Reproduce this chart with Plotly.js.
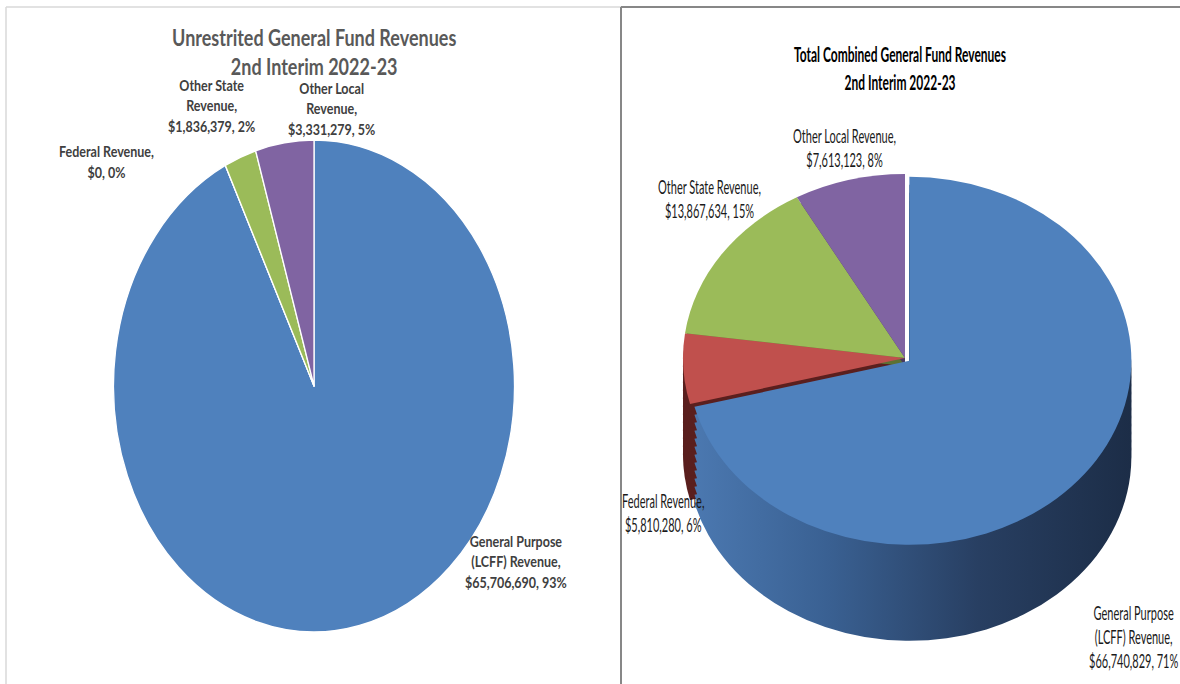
<!DOCTYPE html>
<html>
<head>
<meta charset="utf-8">
<script src="https://cdn.plot.ly/plotly-3.0.1.min.js"></script>
<style>
html,body{margin:0;padding:0;background:#ffffff;}
#chart{width:1180px;height:684px;}
</style>
</head>
<body>
<div id="chart"></div>
<script>
// ---------- DATA ----------
const categories = ["General Purpose (LCFF) Revenue", "Federal Revenue", "Other State Revenue", "Other Local Revenue"];
const unrestrictedValues = [65706690, 0, 1836379, 3331279];
const unrestrictedPct = [93, 0, 2, 5];
const combinedValues = [66740829, 5810280, 13867634, 7613123];
const combinedPct = [71, 6, 15, 8];
const leftWrapped = ["General Purpose<br>(LCFF) Revenue", "Federal Revenue", "Other State<br>Revenue", "Other Local<br>Revenue"];
const rightWrapped = ["General Purpose<br>(LCFF) Revenue", "Federal Revenue", "Other State Revenue", "Other Local Revenue"];
const leftTitle = "Unrestrited General Fund Revenues<br>2nd Interim 2022-23";
const rightTitle = "Total Combined General Fund Revenues<br>2nd Interim 2022-23";

// ---------- STYLE / LAYOUT ----------
const W = 1180, H = 684;
const sliceColors = ["#4f81bd", "#c0504d", "#9bbb59", "#8064a2"];
const sideColors = ["#2f4d74", "#5a1f1e", "#5c7133", "#4a3a60"];

// left flat pie (ellipse): centre, vertical radius, horizontal radius
const L = {cx: 314, cy: 386, ry: 246, rx: 200.5};
// right 3D pie top face
const R = {cx: 905, cy: 358, rx: 222, ry: 184, depth: 96, copies: 12, pull: 0.025};

// label anchor positions (pixel centres) in the order of categories
const leftLabelPos = [[516, 562], [106, 161.5], [211, 106.5], [331, 108.5]];
const rightLabelPos = [[1133, 637], [663, 512], [709, 198], [844, 147]];

function fmt(v) { return "$" + v.toLocaleString("en-US"); }
function dom(cx, cy, r) {
  return {x: [(cx - r) / W, (cx + r) / W], y: [(H - cy - r) / H, (H - cy + r) / H]};
}

const traces = [];
const post = [];

// left pie
traces.push({
  type: "pie", values: unrestrictedValues, labels: categories, sort: false,
  direction: "clockwise", rotation: 0, textinfo: "none", hoverinfo: "label+value+percent",
  marker: {colors: sliceColors, line: {color: "#ffffff", width: 1.6}},
  domain: dom(L.cx, L.cy, L.ry), showlegend: false
});
post.push({sx: L.rx / L.ry, sy: 1, dy: 0, side: false});

// right pie side (stacked darker copies)
const rDom = dom(R.cx, R.cy, R.rx * (1 + R.pull));
const pulls = combinedValues.map((v, i) => i === 0 ? R.pull : 0);
for (let k = R.copies; k >= 1; k--) {
  traces.push({
    type: "pie", values: combinedValues, labels: categories, sort: false,
    direction: "clockwise", rotation: 0, textinfo: "none", hoverinfo: "skip",
    pull: pulls, marker: {colors: sideColors, line: {width: 0}},
    domain: rDom, showlegend: false
  });
  post.push({sx: 1, sy: R.ry / R.rx, dy: R.depth * k / R.copies, side: true});
}
// right pie top face
traces.push({
  type: "pie", values: combinedValues, labels: categories, sort: false,
  direction: "clockwise", rotation: 0, textinfo: "none", hoverinfo: "label+value+percent",
  pull: pulls, marker: {colors: sliceColors, line: {width: 0}},
  domain: rDom, showlegend: false
});
post.push({sx: 1, sy: R.ry / R.rx, dy: 0, side: false});

// annotations
const annotations = [];
const annStretch = [];
function addAnn(text, px, py, font, k) {
  annotations.push({
    text: text, x: px / W, y: 1 - py / H, xref: "paper", yref: "paper",
    xanchor: "center", yanchor: "middle", showarrow: false, align: "center", font: font
  });
  annStretch.push(k);
}
const leftFontT = {family: "Lato, 'Open Sans', sans-serif", size: 18, color: "#595959"};
const leftFontL = {family: "Lato, 'Open Sans', sans-serif", size: 12.5, color: "#404040"};
const rightFontT = {family: "Lato, 'Open Sans', sans-serif", size: 12, color: "#000000"};
const rightFontL = {family: "Lato, 'Open Sans', sans-serif", size: 11, color: "#1a1a1a"};

addAnn("<b>" + leftTitle + "</b>", 314, 52, leftFontT, 1.24);
categories.forEach((c, i) => {
  const t = "<b>" + leftWrapped[i] + ",<br>" + fmt(unrestrictedValues[i]) + ", " + unrestrictedPct[i] + "%</b>";
  addAnn(t, leftLabelPos[i][0], leftLabelPos[i][1], leftFontL, 1.28);
});
addAnn("<b>" + rightTitle + "</b>", 900, 69, rightFontT, 1.75);
categories.forEach((c, i) => {
  const t = rightWrapped[i] + ",<br>" + fmt(combinedValues[i]) + ", " + combinedPct[i] + "%";
  addAnn(t, rightLabelPos[i][0], rightLabelPos[i][1], rightFontL, 1.68);
});

const shapes = [
  {type: "line", xref: "paper", yref: "paper", x0: 6 / W, x1: 621 / W, y0: 1 - 7 / H, y1: 1 - 7 / H, line: {color: "#d9d9d9", width: 1.5}},
  {type: "line", xref: "paper", yref: "paper", x0: 6 / W, x1: 6 / W, y0: 1 - 7 / H, y1: 0, line: {color: "#d9d9d9", width: 1.5}},
  {type: "line", xref: "paper", yref: "paper", x0: 621 / W, x1: 1, y0: 1 - 7 / H, y1: 1 - 7 / H, line: {color: "#878787", width: 2}},
  {type: "line", xref: "paper", yref: "paper", x0: 621 / W, x1: 621 / W, y0: 1 - 7 / H, y1: 0, line: {color: "#878787", width: 2}}
];

const layout = {
  width: W, height: H, margin: {l: 0, r: 0, t: 0, b: 0},
  paper_bgcolor: "#ffffff", plot_bgcolor: "#ffffff",
  showlegend: false, annotations: annotations, shapes: shapes
};

const gd = document.getElementById("chart");
Plotly.newPlot(gd, traces, layout, {displayModeBar: false, staticPlot: true}).then(function () {
  const NS = "http://www.w3.org/2000/svg";
  const svg = gd.querySelector("svg.main-svg");
  let defs = svg.querySelector("defs");
  if (!defs) { defs = document.createElementNS(NS, "defs"); svg.insertBefore(defs, svg.firstChild); }
  const lg = document.createElementNS(NS, "linearGradient");
  lg.setAttribute("id", "sideGrad");
  lg.setAttribute("x1", "0"); lg.setAttribute("y1", "0");
  lg.setAttribute("x2", "1"); lg.setAttribute("y2", "0");
  [["0", "#4b78b0"], ["0.3", "#3a6193"], ["0.65", "#283f62"], ["1", "#1c2d47"]].forEach(function (s) {
    const st = document.createElementNS(NS, "stop");
    st.setAttribute("offset", s[0]); st.setAttribute("stop-color", s[1]);
    lg.appendChild(st);
  });
  defs.appendChild(lg);

  gd.querySelectorAll(".pielayer g.trace").forEach(function (g) {
    const d = g.__data__;
    if (!d || !d[0]) return;
    const idx = d[0].trace.index;
    const p = post[idx];
    if (!p) return;
    const cx = d[0].cx, cy = d[0].cy;
    g.setAttribute("transform",
      "translate(0," + p.dy + ") translate(" + cx + "," + cy + ") scale(" + p.sx + "," + p.sy + ") translate(" + (-cx) + "," + (-cy) + ")");
    if (p.side) {
      g.querySelectorAll("g.slice").forEach(function (s) {
        if (s.__data__ && s.__data__.i === 0) {
          const path = s.querySelector("path.surface");
          if (path) path.style.fill = "url(#sideGrad)";
        }
      });
    }
  });

  gd.querySelectorAll("g.annotation").forEach(function (a) {
    const i = +a.getAttribute("data-index");
    const k = annStretch[i] || 1;
    const bb = a.getBBox();
    const cx = bb.x + bb.width / 2, cy = bb.y + bb.height / 2;
    a.setAttribute("transform", "translate(" + cx + "," + cy + ") scale(1," + k + ") translate(" + (-cx) + "," + (-cy) + ")");
  });
});
</script>
</body>
</html>
